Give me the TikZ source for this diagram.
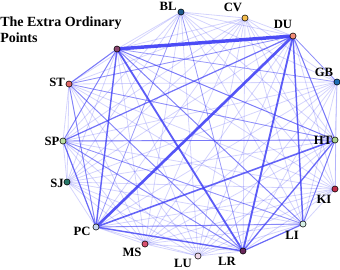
\documentclass[tikz,border=0pt]{standalone}
\usepackage{fontspec}
\setmainfont{Liberation Serif}
\usetikzlibrary{backgrounds}
\definecolor{edgeblue}{RGB}{60,60,245}
\definecolor{cX}{RGB}{140,70,110}
\definecolor{cBL}{RGB}{30,90,140}
\definecolor{cCV}{RGB}{245,190,80}
\definecolor{cDU}{RGB}{240,140,120}
\definecolor{cGB}{RGB}{30,110,180}
\definecolor{cHT}{RGB}{170,210,140}
\definecolor{cKI}{RGB}{190,45,75}
\definecolor{cLI}{RGB}{215,240,230}
\definecolor{cLR}{RGB}{105,40,90}
\definecolor{cLU}{RGB}{240,215,232}
\definecolor{cMS}{RGB}{215,80,110}
\definecolor{cPC}{RGB}{200,215,240}
\definecolor{cSJ}{RGB}{40,120,105}
\definecolor{cSP}{RGB}{185,220,160}
\definecolor{cST}{RGB}{225,105,105}
\tikzset{
  pt/.style={circle,draw=black,line width=0.4pt,inner sep=0pt,minimum size=4.6pt,fill=#1},
  lab/.style={font=\bfseries\fontsize{9.5}{10}\selectfont,inner sep=0pt},
  base/.style={edgeblue,line width=0.6pt,opacity=0.22},
  wt/.style={edgeblue,opacity=0.7}
}
\begin{document}
\begin{tikzpicture}[x=0.75pt,y=-0.75pt]
\useasboundingbox (0,0) rectangle (340,269);
\node[pt=cX]  (X)  at (117,49) {};
\node[pt=cBL] (BL) at (181,12) {};
\node[pt=cCV] (CV) at (245,18) {};
\node[pt=cDU] (DU) at (293,36) {};
\node[pt=cGB] (GB) at (337,82) {};
\node[pt=cHT] (HT) at (335,140) {};
\node[pt=cKI] (KI) at (335,189) {};
\node[pt=cLI] (LI) at (303,224) {};
\node[pt=cLR] (LR) at (243,251) {};
\node[pt=cLU] (LU) at (198,256) {};
\node[pt=cMS] (MS) at (145,244) {};
\node[pt=cPC] (PC) at (96,227) {};
\node[pt=cSJ] (SJ) at (67,182) {};
\node[pt=cSP] (SP) at (63,141) {};
\node[pt=cST] (ST) at (69,84) {};

\node[lab] (lBL) at (168,6) {BL};
\node[lab] (lCV) at (233,7) {CV};
\node[lab] (lDU) at (283,24) {DU};
\node[lab] (lGB) at (324,72) {GB};
\node[lab] (lHT) at (323,140) {HT};
\node[lab] (lKI) at (324,199) {KI};
\node[lab] (lLI) at (292,235) {LI};
\node[lab] (lLR) at (227,261) {LR};
\node[lab] (lLU) at (183,263) {LU};
\node[lab] (lMS) at (132,252) {MS};
\node[lab] (lPC) at (82,231) {PC};
\node[lab] (lSJ) at (57,183) {SJ};
\node[lab] (lSP) at (52,141) {SP};
\node[lab] (lST) at (57,82) {ST};

\node[lab,anchor=north west,align=left,font=\bfseries\fontsize{10.5}{11.5}\selectfont] (title) at (0,17) {The Extra Ordinary\\Points};

\begin{scope}[on background layer]
\foreach \a [count=\i] in {X,BL,CV,DU,GB,HT,KI,LI,LR,LU,MS,PC,SJ,SP,ST}{
  \foreach \b [count=\j] in {X,BL,CV,DU,GB,HT,KI,LI,LR,LU,MS,PC,SJ,SP,ST}{
    \ifnum\j>\i \draw[base] (\a.center) -- (\b.center); \fi
  }
}
\foreach \a/\b/\w/\o in {
  X/DU/2.6/0.9, PC/DU/2.0/0.85, X/LR/1.4/0.8, DU/LR/1.4/0.8, DU/LI/1.1/0.75,
  X/PC/1.1/0.75, PC/HT/1.2/0.75, PC/LR/1.1/0.75, LR/HT/1.0/0.7, LR/LI/0.9/0.7,
  SP/PC/0.9/0.7, X/ST/0.8/0.6, SP/HT/0.7/0.6, SP/DU/0.9/0.65, X/HT/0.7/0.6,
  X/LI/0.7/0.55, ST/PC/0.7/0.55, ST/LR/0.7/0.5, SP/LR/0.7/0.5, ST/HT/0.6/0.45,
  X/GB/0.5/0.4, DU/HT/0.8/0.6, DU/GB/0.5/0.5, BL/PC/0.5/0.4, BL/LR/0.5/0.4,
  PC/LI/0.7/0.5, SP/LI/0.6/0.45, ST/DU/0.6/0.45, X/SP/0.7/0.55, HT/LI/0.7/0.6}{
  \draw[wt,line width=\w pt,opacity=\o] (\a.center) -- (\b.center);
}
\end{scope}
\end{tikzpicture}
\end{document}
